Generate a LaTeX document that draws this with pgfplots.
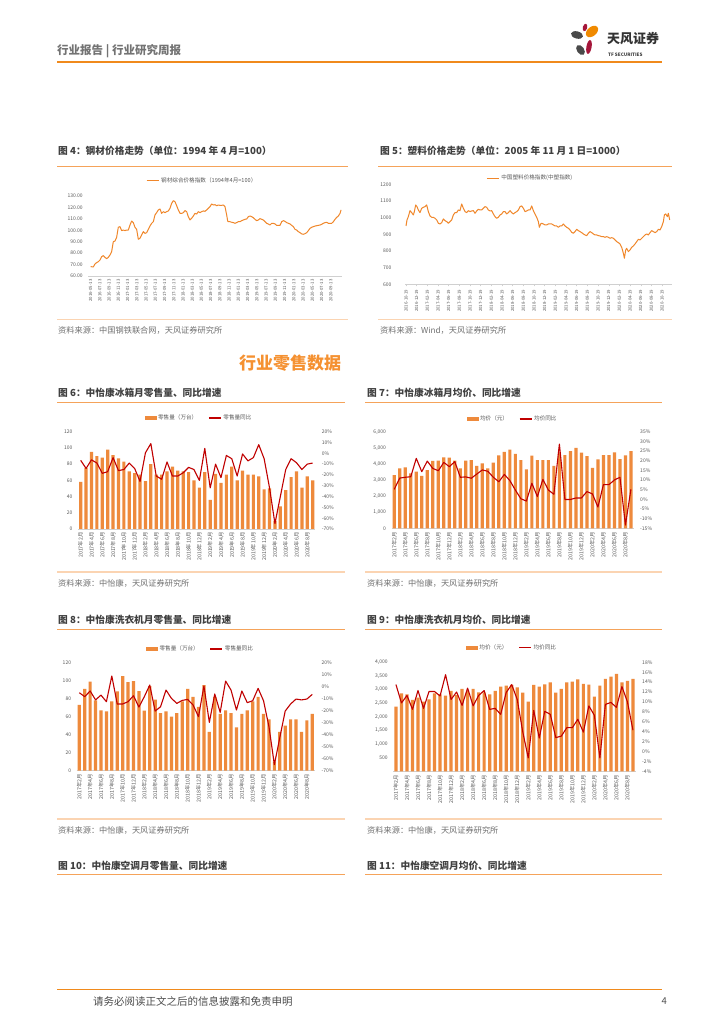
\documentclass[border=0pt]{standalone}
\usepackage{fontspec}
\setmainfont{Noto Sans CJK SC}
\usepackage{pgfplots}
\usepackage{pgfplotstable}
\pgfplotsset{compat=1.18}

\definecolor{barcol}{HTML}{EE8A3C}
\definecolor{redline}{HTML}{C00000}
\definecolor{orline}{HTML}{F0872B}
\definecolor{titlegray}{HTML}{404040}
\definecolor{srcgray}{HTML}{707070}
\definecolor{tickgray}{HTML}{595959}
\definecolor{axgray}{HTML}{D0D0D0}
\definecolor{ttline}{HTML}{F5A35A}
\definecolor{srcline}{HTML}{FBD4B2}
\definecolor{hdorange}{HTML}{F08A1C}
\definecolor{secorange}{HTML}{F59131}
\definecolor{logogray}{HTML}{4A4A4A}
\definecolor{logored}{HTML}{A5163A}
\definecolor{logoorange}{HTML}{F08A00}

\newcommand\tickfont{\fontsize{5}{6}\selectfont}
\newcommand\legfont{\fontsize{5.6}{6.5}\selectfont}
\newcommand\datefont{\fontsize{4.3}{5}\selectfont}
\newcommand\monfont{\fontsize{5.3}{6}\selectfont}
\newcommand\titlefont{\bfseries\fontsize{9.7}{11}\selectfont}
\newcommand\srcfont{\fontsize{8.2}{9.5}\selectfont}

\pgfplotsset{
  /pgf/number format/assume math mode=true,
  legstyle/.style={legend style={draw=none, fill=none, font=\legfont, text=tickgray,
      legend columns=2, /tikz/every even column/.append style={column sep=9pt}, inner sep=1pt},
    legend cell align=left},
  base/.style={scale only axis, anchor=south west, scaled ticks=false,
    major tick length=0pt, tick label style={font=\tickfont, text=tickgray},
    axis y line*=left, y axis line style={draw=none},
    axis x line*=bottom, x axis line style={-, draw=axgray, line width=0.6pt},
    yticklabel style={xshift=-2pt}, legstyle},
  monthx/.style={xmin=0.5, xmax=44.5, xtick={1,3,...,43},
    xticklabels={2017年2月,2017年4月,2017年6月,2017年8月,2017年10月,2017年12月,
      2018年2月,2018年4月,2018年6月,2018年8月,2018年10月,2018年12月,
      2019年2月,2019年4月,2019年6月,2019年8月,2019年10月,2019年12月,
      2020年2月,2020年4月,2020年6月,2020年8月},
    xticklabel style={rotate=90, anchor=east, font=\monfont}},
  twin/.style={scale only axis, anchor=south west, scaled ticks=false,
    major tick length=0pt, tick label style={font=\tickfont, text=tickgray},
    xmin=0.5, xmax=44.5, hide x axis, axis y line*=right, y axis line style={draw=none},
    yticklabel={\pgfmathprintnumber{\tick}\%}, yticklabel style={xshift=3pt}, legstyle},
  bars/.style={ybar, bar width=3.2pt, fill=barcol, draw=none},
  redl/.style={redline, line width=1.1pt, line join=round},
}

% 图6 冰箱零售量(万台) / 同比(%)
\pgfplotstableread{
i v g
1 58 -6.5
2 75 -14
3 95 -6
4 90 -9
5 88 -18.5
6 98 -17
7 91 -4
8 87 -16
9 83 -15
10 71 -9
11 69 -14
12 67 -26
13 59 0.5
14 80 9
15 67 -21
16 67 -24
17 71 -8
18 77 -21
19 72 -21
20 71 -18
21 70 -13
22 60 -15
23 51 -25
24 70 4.6
25 36 -32
26 68 -10
27 57 -22.5
28 67 -2
29 77 -5
30 60 -21
31 72 -0.6
32 67 -7
33 67 -4
34 65 8
35 49 -5
36 50 -32
37 10 -65
38 28 -40
39 48 -15
40 64 -5
41 71 -8.7
42 51 -15
43 65 -10
44 60 -9
}\tabA

% 图7 冰箱均价(元) / 同比(%)
\pgfplotstableread{
i v g
1 3310 5.2
2 3725 11.0
3 3790 11.4
4 3415 11.7
5 3520 21.2
6 3250 14.3
7 3620 19.8
8 4180 16.0
9 4200 14.8
10 4410 19.1
11 4390 16.9
12 4200 19.5
13 3725 11.4
14 4200 11.6
15 4240 10.9
16 3870 13.1
17 4035 15.2
18 3725 14.5
19 4075 11.4
20 4530 9.1
21 4740 12.9
22 4880 9.7
23 4615 4.8
24 4240 0.3
25 3660 -0.9
26 4510 8.3
27 4240 1.4
28 4240 10.3
29 4240 4.8
30 3870 2.6
31 4700 28.6
32 4550 -0.1
33 4800 -0.1
34 4990 0.7
35 4700 0.7
36 4490 4.0
37 3745 2.8
38 4280 -4.0
39 4550 7.6
40 4550 7.6
41 4720 10.0
42 4300 11.4
43 4530 -13.3
44 4800 5.2
}\tabB

% 图8 洗衣机零售量(万台) / 同比(%)
\pgfplotstableread{
i v g
1 73 -5
2 91 -8.3
3 99 -3.6
4 78 -11
5 67 -7
6 66 -12.5
7 77 8.9
8 88 -14.4
9 105 -14.4
10 98.5 -12.5
11 99.6 -7.5
12 88.5 -17
13 66.7 -8.3
14 94 1.4
15 79 -20.3
16 64 -16.7
17 66 -2.8
18 60 -9.7
19 64 -13.9
20 77 -11.4
21 91 -10.6
22 82 -15.3
23 71 -25
24 95 0.6
25 43 -29.7
26 82 -6.1
27 63 -21.4
28 67 4.7
29 64 -2.8
30 48 -19.4
31 63 -3.6
32 67 -13.3
33 77 -11.7
34 82 -1.4
35 63 -11.7
36 57 -33.3
37 10 -65
38 43 -42.5
39 50 -20.3
40 57 -14.4
41 57 -10.3
42 43 -11
43 56 -10.3
44 63 -6.4
}\tabC

% 图9 洗衣机均价(元) / 同比(%)
\pgfplotstableread{
i v g
1 2373 13.5
2 2862 9.8
3 2826 11.3
4 2618 8.5
5 2703 12.3
6 2557 8.7
7 2642 12.1
8 2862 12.1
9 2826 11.2
10 2777 15.5
11 2948 10.5
12 2801 12
13 3021 9.3
14 2948 12.8
15 3021 9.2
16 2899 11.3
17 2899 12.3
18 2826 8.5
19 2948 8.7
20 3107 7.5
21 3144 11.9
22 3168 13.5
23 3083 10.5
24 2887 4
25 2557 -1.3
26 3168 8.3
27 3107 2.7
28 3193 8.1
29 3266 7.5
30 2887 2.8
31 3021 3.1
32 3266 4.8
33 3291 4.8
34 3376 6.5
35 3205 3.9
36 3180 9.2
37 2740 7.3
38 3144 -1.3
39 3388 9.5
40 3474 9.9
41 3572 8.9
42 3266 13.1
43 3315 10
44 3388 4.3
}\tabD

\begin{document}
\begin{tikzpicture}
\fill[white] (0,0) rectangle (724pt,1024pt);
\path[use as bounding box] (0,0) rectangle (724pt,1024pt);

% ---- header
\node[anchor=west, inner sep=0, font=\bfseries\fontsize{11.5}{13}\selectfont, text=black!55] at (57pt,973pt) {行业报告 | 行业研究周报};
\draw[hdorange, line width=1.1pt] (57pt,962pt) -- (662pt,962pt);
\fill[logored, rotate around={-15:(585pt,996.5pt)}] (585pt,996.5pt) ellipse (2.2pt and 3.8pt);
\fill[logoorange, rotate around={40:(592pt,992.5pt)}] (592pt,992.5pt) ellipse (7pt and 4.6pt);
\fill[logogray, rotate around={-15:(577pt,989pt)}] (577pt,989pt) ellipse (6.2pt and 3.6pt);
\fill[logogray, rotate around={35:(580.5pt,974pt)}] (580.5pt,974pt) ellipse (3.6pt and 5.6pt);
\fill[logored, rotate around={-10:(589pt,977pt)}] (589pt,977pt) ellipse (2.6pt and 7pt);
\node[anchor=west, inner sep=0, font=\bfseries\fontsize{13}{14}\selectfont, text=black!80] at (607pt,985pt) {天风证券};
\node[anchor=west, inner sep=0, font=\bfseries\fontsize{4.6}{5}\selectfont, text=black!75] at (608pt,968.7pt) {TF SECURITIES};

% ---- titles, rules and sources
\node[anchor=west, inner sep=0, font=\titlefont, text=titlegray] at (58pt,873pt) {图 4：钢材价格走势（单位：1994 年 4 月=100）};
\node[anchor=west, inner sep=0, font=\titlefont, text=titlegray] at (380pt,873pt) {图 5：塑料价格走势（单位：2005 年 11 月 1 日=1000）};
\draw[ttline, line width=1pt] (57pt,857.3pt) -- (348pt,857.3pt);
\draw[ttline, line width=1pt] (378pt,857.3pt) -- (672pt,857.3pt);
\draw[srcline, line width=1.2pt] (57pt,704.5pt) -- (348pt,704.5pt);
\draw[srcline, line width=1.2pt] (378pt,704.5pt) -- (672pt,704.5pt);
\node[anchor=west, inner sep=0, font=\srcfont, text=srcgray] at (58pt,693.5pt) {资料来源：中国钢铁联合网，天风证券研究所};
\node[anchor=west, inner sep=0, font=\srcfont, text=srcgray] at (380pt,693.5pt) {资料来源：Wind，天风证券研究所};

\node[inner sep=0, font=\bfseries\fontsize{17}{19}\selectfont, text=secorange] at (290pt,661pt) {行业零售数据};

\node[anchor=west, inner sep=0, font=\titlefont, text=titlegray] at (58pt,631.5pt) {图 6：中怡康冰箱月零售量、同比增速};
\node[anchor=west, inner sep=0, font=\titlefont, text=titlegray] at (367pt,631.5pt) {图 7：中怡康冰箱月均价、同比增速};
\draw[ttline, line width=1pt] (57pt,621.7pt) -- (345pt,621.7pt);
\draw[ttline, line width=1pt] (365pt,621.7pt) -- (662pt,621.7pt);
\draw[srcline, line width=1.2pt] (57pt,452pt) -- (345pt,452pt);
\draw[srcline, line width=1.2pt] (365pt,452pt) -- (662pt,452pt);
\node[anchor=west, inner sep=0, font=\srcfont, text=srcgray] at (58pt,441pt) {资料来源：中怡康，天风证券研究所};
\node[anchor=west, inner sep=0, font=\srcfont, text=srcgray] at (367pt,441pt) {资料来源：中怡康，天风证券研究所};

\node[anchor=west, inner sep=0, font=\titlefont, text=titlegray] at (58pt,404pt) {图 8：中怡康洗衣机月零售量、同比增速};
\node[anchor=west, inner sep=0, font=\titlefont, text=titlegray] at (367pt,404pt) {图 9：中怡康洗衣机月均价、同比增速};
\draw[ttline, line width=1pt] (57pt,394.5pt) -- (345pt,394.5pt);
\draw[ttline, line width=1pt] (365pt,394.5pt) -- (662pt,394.5pt);
\draw[srcline, line width=1.2pt] (57pt,205pt) -- (345pt,205pt);
\draw[srcline, line width=1.2pt] (365pt,205pt) -- (662pt,205pt);
\node[anchor=west, inner sep=0, font=\srcfont, text=srcgray] at (58pt,194pt) {资料来源：中怡康，天风证券研究所};
\node[anchor=west, inner sep=0, font=\srcfont, text=srcgray] at (367pt,194pt) {资料来源：中怡康，天风证券研究所};

\node[anchor=west, inner sep=0, font=\titlefont, text=titlegray] at (58pt,158pt) {图 10：中怡康空调月零售量、同比增速};
\node[anchor=west, inner sep=0, font=\titlefont, text=titlegray] at (367pt,158pt) {图 11：中怡康空调月均价、同比增速};
\draw[ttline, line width=1pt] (57pt,149pt) -- (345pt,149pt);
\draw[ttline, line width=1pt] (365pt,149pt) -- (662pt,149pt);

% ---- footer
\draw[hdorange, line width=1.1pt] (57pt,34.5pt) -- (662pt,34.5pt);
\node[anchor=west, inner sep=0, font=\fontsize{10.5}{12}\selectfont, text=black!70] at (93pt,23pt) {请务必阅读正文之后的信息披露和免责申明};
\node[anchor=east, inner sep=0, font=\fontsize{9.5}{11}\selectfont, text=black!70] at (667pt,23pt) {4};

% ---- 图4 钢材
\begin{axis}[base, at={(88.3pt,748pt)}, width=253.4pt, height=80pt,
  xmin=100, xmax=860, ymin=60, ymax=130, ytick={60,70,...,130},
  yticklabel style={/pgf/number format/fixed, /pgf/number format/fixed zerofill, /pgf/number format/precision=2},
  xtick={107,134.7,162.4,190.1,217.8,245.5,273.2,300.9,328.6,356.3,384,411.7,439.4,467.1,494.8,522.5,550.2,577.9,605.6,633.3,661,688.7,716.4,744.1,771.8,799.5,827.2},
  xticklabels={2016-05-13,2016-07-13,2016-09-13,2016-11-13,2017-01-13,2017-03-13,2017-05-13,2017-07-13,2017-09-13,2017-11-13,2018-01-13,2018-03-13,2018-05-13,2018-07-13,2018-09-13,2018-11-13,2019-01-13,2019-03-13,2019-05-13,2019-07-13,2019-09-13,2019-11-13,2020-01-13,2020-03-13,2020-05-13,2020-07-13,2020-09-13},
  xticklabel style={rotate=90, anchor=east, font=\datefont},
  legend style={at={(0.45,1)}, anchor=center, yshift=15pt}]
\addlegendimage{legend image code/.code={\draw[orline, line width=1pt] (0pt,0pt) -- (12pt,0pt);}}
\addlegendentry{钢材综合价格指数（1994年4月=100）}
\addplot[orline, line width=1pt, line join=round, forget plot] coordinates {
(107,68.2) (115,67.9) (120,70.5) (125,71.7) (130,72.5) (135,74.0) (140,76.9) (145,77.8)
(150,76.3) (155,75.2) (160,76.3) (165,78.4) (170,81.3) (175,90.0) (180,90.6) (185,93.8)
(190,102.6) (195,103.2) (200,99.7) (205,100.2) (210,99.7) (215,100.2) (220,100.2) (225,104.6)
(230,108.1) (235,106.7) (240,102.6) (245,100.8) (250,92.1) (255,93.0) (260,95.9) (265,98.8)
(270,97.3) (275,97.9) (280,100.8) (285,103.7) (290,106.1) (295,107.5) (300,113.4) (305,115.4)
(310,117.8) (315,118.6) (320,114.8) (325,116.3) (330,115.4) (335,116.3) (340,116.9) (345,119.2)
(350,123.6) (355,125.9) (360,125.0) (365,121.5) (370,117.8) (375,114.8) (380,114.8) (385,115.4)
(390,117.2) (395,116.3) (400,111.9) (405,109.0) (410,110.5) (415,112.5) (420,114.8) (425,114.2)
(430,116.3) (435,115.4) (440,116.3) (445,116.9) (450,116.6) (455,117.8) (460,119.2) (465,120.7)
(470,123.0) (475,122.1) (480,122.4) (485,121.5) (490,122.1) (495,121.8) (500,121.8) (505,122.1)
(510,120.7) (515,113.4) (518,108.1) (520,107.5) (525,107.5) (530,107.0) (535,106.7) (540,106.1)
(545,106.7) (550,107.5) (555,107.5) (560,108.4) (565,109.0) (570,109.6) (575,109.9) (580,111.9)
(585,112.5) (590,111.9) (595,111.0) (600,109.6) (605,108.4) (610,109.0) (615,110.2) (620,109.6)
(625,109.0) (630,107.5) (635,106.1) (640,105.5) (645,104.6) (650,106.1) (655,106.1) (660,105.5)
(665,104.3) (670,104.3) (675,104.3) (680,107.5) (685,108.4) (690,107.8) (695,106.7) (700,106.1)
(705,105.5) (710,104.3) (715,103.2) (720,100.8) (725,100.2) (730,98.8) (735,97.9) (740,96.8)
(745,96.5) (750,97.0) (755,97.9) (760,99.7) (765,101.7) (770,102.6) (775,103.2) (780,103.7)
(785,104.0) (790,104.3) (795,104.6) (800,105.2) (805,106.1) (810,106.7) (815,107.0) (820,106.1)
(825,106.1) (830,106.1) (835,107.5) (840,109.6) (845,111.3) (850,112.5) (855,114.8) (858,117.8)
};
\end{axis}

% ---- 图5 塑料
\begin{axis}[base, at={(405pt,739.7pt)}, width=266.7pt, height=100pt,
  xmin=90, xmax=890, ymin=600, ymax=1200, ytick={600,700,...,1200},
  yticklabel style={/pgf/number format/1000 sep={}, xshift=-6pt},
  major tick length=2pt, tick align=outside, xtick style={draw=axgray, line width=0.4pt}, ytick style={draw=none},
  xtick={93,125,...,861},
  xticklabels={2016-10-19,2016-12-19,2017-02-19,2017-04-19,2017-06-19,2017-08-19,2017-10-19,2017-12-19,2018-02-19,2018-04-19,2018-06-19,2018-08-19,2018-10-19,2018-12-19,2019-02-19,2019-04-19,2019-06-19,2019-08-19,2019-10-19,2019-12-19,2020-02-19,2020-04-19,2020-06-19,2020-08-19,2020-10-19},
  xticklabel style={rotate=90, anchor=east, font=\datefont},
  legend style={at={(0.47,1)}, anchor=center, yshift=6pt}]
\addlegendimage{legend image code/.code={\draw[orline, line width=1pt] (0pt,0pt) -- (12pt,0pt);}}
\addlegendentry{中国塑料价格指数(中塑指数)}
\addplot[orline, line width=1pt, line join=round, forget plot] coordinates {
(93,950) (96,986) (100,1006) (105,1042) (110,1030) (115,1016) (118,1036) (122,1076)
(126,1066) (130,1046) (135,1030) (140,1056) (145,1062) (150,1066) (155,1076) (160,1036)
(165,1010) (170,1002) (175,1002) (180,996) (185,986) (190,966) (195,962) (200,970)
(205,992) (210,982) (215,976) (220,966) (225,976) (230,986) (235,1016) (240,1030)
(245,1030) (250,1046) (255,1042) (260,1082) (265,1056) (270,1036) (275,1030) (280,1042)
(285,1036) (290,1040) (295,1042) (300,1026) (305,1040) (310,1050) (315,1046) (320,1046)
(325,1056) (330,1066) (335,1062) (340,1046) (345,1040) (350,1042) (355,1022) (360,1006)
(365,996) (370,1002) (375,1016) (380,1022) (385,1036) (390,1036) (395,1022) (400,1030)
(405,1042) (410,1030) (415,1022) (420,1030) (425,1036) (430,1046) (435,1066) (440,1070)
(445,1056) (450,1036) (455,1040) (460,1046) (465,1046) (470,1070) (475,1042) (480,1022)
(485,1002) (490,976) (493,942) (497,962) (500,966) (505,962) (510,956) (515,956)
(520,962) (525,962) (530,962) (535,956) (540,950) (545,950) (550,942) (555,950)
(560,950) (565,962) (570,950) (575,942) (580,936) (585,926) (590,912) (595,906)
(600,916) (605,930) (610,922) (615,916) (620,910) (625,902) (630,896) (635,892)
(640,906) (645,916) (650,910) (655,902) (660,896) (665,896) (670,892) (675,890)
(680,886) (685,886) (690,882) (695,886) (700,882) (705,876) (710,880) (715,876)
(720,866) (725,856) (730,850) (735,842) (740,822) (745,786) (748,756) (752,806)
(755,816) (760,796) (765,806) (770,822) (775,830) (780,842) (785,856) (790,870)
(795,866) (800,876) (805,886) (810,896) (815,902) (820,896) (825,910) (830,922)
(835,916) (840,910) (845,916) (850,930) (855,926) (860,946) (865,976) (868,1016)
(872,1022) (877,1006) (880,1026) (884,986)
};
\end{axis}

% ---- 图6
\begin{axis}[base, monthx, at={(78pt,495pt)}, width=237.4pt, height=97.3pt,
  ymin=0, ymax=120, ytick={0,20,...,120}]
\addplot[bars] table[x=i, y=v] {\tabA};
\end{axis}
\begin{axis}[twin, at={(78pt,495pt)}, width=237.4pt, height=97.3pt,
  ymin=-70, ymax=20, ytick={-70,-60,...,20},
  legend style={at={(0.51,1)}, anchor=center, yshift=13.7pt}]
\addlegendimage{legend image code/.code={\fill[barcol] (0pt,-1.6pt) rectangle (11pt,1.6pt);}}
\addlegendentry{零售量（万台）}
\addlegendimage{legend image code/.code={\draw[redline, line width=1.1pt] (0pt,0pt) -- (12pt,0pt);}}
\addlegendentry{零售量同比}
\addplot[redl, forget plot] table[x=i, y=g] {\tabA};
\end{axis}

% ---- 图7
\begin{axis}[base, monthx, at={(391.5pt,495.7pt)}, width=242.2pt, height=96.6pt,
  ymin=0, ymax=6000, ytick={0,1000,...,6000}]
\addplot[bars] table[x=i, y=v] {\tabB};
\end{axis}
\begin{axis}[twin, at={(391.5pt,495.7pt)}, width=242.2pt, height=96.6pt,
  ymin=-15, ymax=35, ytick={-15,-10,...,35},
  legend style={at={(0.50,1)}, anchor=center, yshift=12.7pt}]
\addlegendimage{legend image code/.code={\fill[barcol] (0pt,-1.6pt) rectangle (11pt,1.6pt);}}
\addlegendentry{均价（元）}
\addlegendimage{legend image code/.code={\draw[redline, line width=1.1pt] (0pt,0pt) -- (12pt,0pt);}}
\addlegendentry{均价同比}
\addplot[redl, forget plot] table[x=i, y=g] {\tabB};
\end{axis}

% ---- 图8
\begin{axis}[base, monthx, at={(76.6pt,253.3pt)}, width=238.4pt, height=108pt,
  ymin=0, ymax=120, ytick={0,20,...,120}]
\addplot[bars] table[x=i, y=v] {\tabC};
\end{axis}
\begin{axis}[twin, at={(76.6pt,253.3pt)}, width=238.4pt, height=108pt,
  ymin=-70, ymax=20, ytick={-70,-60,...,20},
  legend style={at={(0.52,1)}, anchor=center, yshift=13.7pt}]
\addlegendimage{legend image code/.code={\fill[barcol] (0pt,-1.6pt) rectangle (11pt,1.6pt);}}
\addlegendentry{零售量（万台）}
\addlegendimage{legend image code/.code={\draw[redline, line width=1.1pt] (0pt,0pt) -- (12pt,0pt);}}
\addlegendentry{零售量同比}
\addplot[redl, forget plot] table[x=i, y=g] {\tabC};
\end{axis}

% ---- 图9
\begin{axis}[base, monthx, at={(393.2pt,252.7pt)}, width=242.5pt, height=109pt,
  ymin=0, ymax=4000, ytick={500,1000,...,4000}]
\addplot[bars] table[x=i, y=v] {\tabD};
\end{axis}
\begin{axis}[twin, at={(393.2pt,252.7pt)}, width=242.5pt, height=109pt,
  ymin=-4, ymax=18, ytick={-4,-2,...,18},
  legend style={at={(0.49,1)}, anchor=center, yshift=14.6pt}]
\addlegendimage{legend image code/.code={\fill[barcol] (0pt,-1.6pt) rectangle (11pt,1.6pt);}}
\addlegendentry{均价（元）}
\addlegendimage{legend image code/.code={\draw[redline, line width=1.1pt] (0pt,0pt) -- (12pt,0pt);}}
\addlegendentry{均价同比}
\addplot[redl, forget plot] table[x=i, y=g] {\tabD};
\end{axis}

\end{tikzpicture}
\end{document}
